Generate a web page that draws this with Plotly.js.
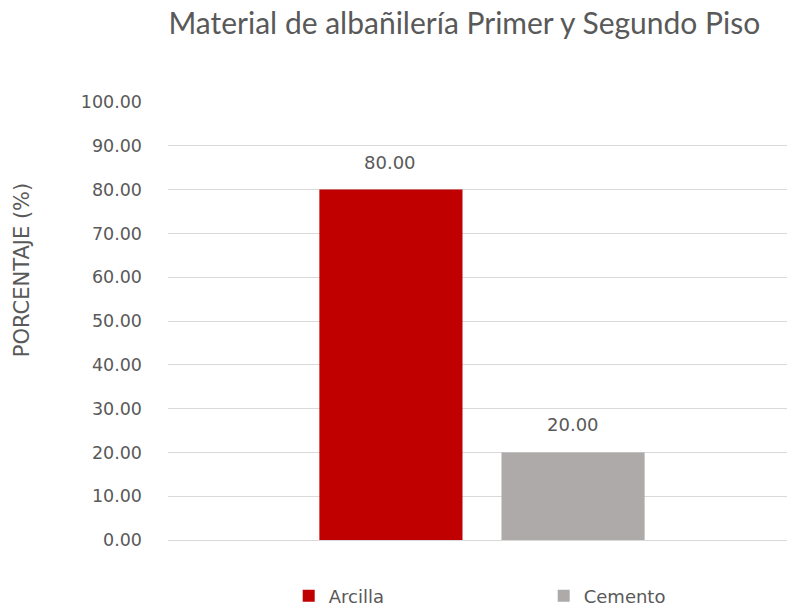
<!DOCTYPE html>
<html>
<head>
<meta charset="utf-8">
<script src="https://cdn.plot.ly/plotly-3.0.1.min.js"></script>
<style>html,body{margin:0;padding:0;background:#fff;}#chart{width:787px;height:608px;}</style>
</head>
<body>
<div id="chart"></div>
<script>
const chartTitle = "Material de albañilería Primer y Segundo Piso";
const yTitle = "PORCENTAJE (%)";
const category = ["Material"];
const seriesNames = ["Arcilla", "Cemento"];
const arcillaValues = [80.00];
const cementoValues = [20.00];
const seriesColors = ["#C00000", "#AEAAAA"];

const gray = "#595959";
const dejavu = "'DejaVu Sans', Verdana, sans-serif";

const seriesValues = [arcillaValues, cementoValues];
const traces = seriesValues.map((vals, i) => ({
  type: "bar",
  name: seriesNames[i],
  x: category,
  y: vals,
  marker: {color: seriesColors[i]},
  hoverinfo: "y+name"
}));

// data labels above each bar (offset to each bar of the group)
const barOffsets = [-91.5, 91.5];
const annotations = [];
seriesValues.forEach((vals, i) => {
  vals.forEach((v, j) => {
    annotations.push({
      x: category[j], y: v, xref: "x", yref: "y",
      text: v.toFixed(2),
      showarrow: false,
      xshift: barOffsets[i],
      yanchor: "bottom",
      yshift: 15,
      font: {family: dejavu, size: 18, color: gray}
    });
  });
});

// vertical axis title (placed like the reference, above the plot's middle)
annotations.push({
  text: yTitle,
  xref: "paper", yref: "paper",
  x: 0, y: 0.616,
  xanchor: "center", yanchor: "middle",
  xshift: -146,
  textangle: -90,
  showarrow: false,
  font: {family: dejavu, size: 21, color: gray}
});

const layout = {
  width: 787, height: 608,
  margin: {l: 168, r: 0, t: 102, b: 68, autoexpand: false},
  paper_bgcolor: "#ffffff",
  plot_bgcolor: "#ffffff",
  title: {
    text: chartTitle,
    font: {family: "Lato, 'Open Sans', sans-serif", size: 30, color: gray},
    xref: "container", x: 0.59, xanchor: "center",
    yref: "container", y: 0.962, yanchor: "middle"
  },
  barmode: "group",
  bargap: 0.42,
  bargroupgap: 0.214,
  annotations: annotations,
  xaxis: {
    type: "category",
    range: [-0.5, 0.4857],
    showticklabels: false,
    showgrid: false,
    zeroline: false,
    showline: false,
    fixedrange: true
  },
  yaxis: {
    range: [0, 100],
    dtick: 10,
    tickformat: ".2f",
    showgrid: true,
    gridcolor: "#D9D9D9",
    gridwidth: 1,
    zeroline: true,
    zerolinecolor: "#D9D9D9",
    zerolinewidth: 1,
    showline: false,
    ticks: "",
    ticklabelstandoff: 25,
    tickfont: {family: dejavu, size: 17.5, color: gray},
    fixedrange: true
  },
  showlegend: true,
  legend: {
    orientation: "h",
    x: 0.195, xanchor: "left",
    y: -0.128, yanchor: "middle",
    entrywidth: 210,
    entrywidthmode: "pixels",
    font: {family: dejavu, size: 18, color: gray},
    itemwidth: 30,
    traceorder: "normal"
  }
};

Plotly.newPlot("chart", traces, layout, {displayModeBar: false, staticPlot: true});
</script>
</body>
</html>
